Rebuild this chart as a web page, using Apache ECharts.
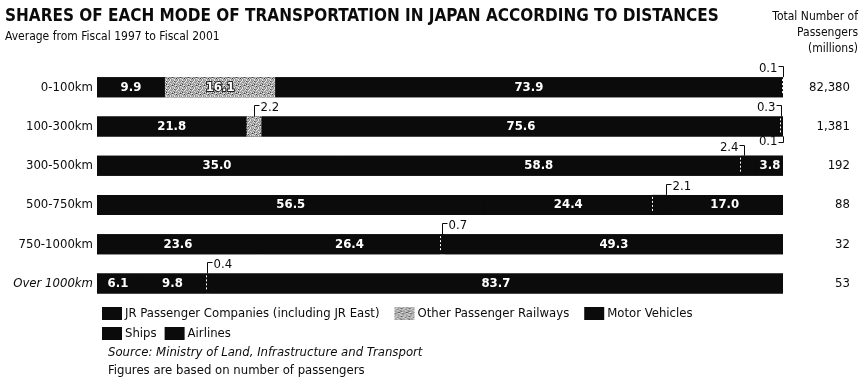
<!DOCTYPE html>
<html>
<head>
<meta charset="utf-8">
<title>Shares of each mode of transportation in Japan according to distances</title>
<script src="https://cdn.jsdelivr.net/npm/echarts@6/dist/echarts.min.js"></script>
<style>
  html, body { margin: 0; padding: 0; background: #fff; }
  #chart { width: 867px; height: 390px; }
</style>
</head>
<body>
<div id="chart"></div>
<script>
// Distance bands (rows, top to bottom)
const categories = ['0-100km', '100-300km', '300-500km', '500-750km', '750-1000km', 'Over 1000km'];

// Share of passengers by mode (%), average of fiscal 1997-2001
const jrPassenger = [9.9, 21.8, 35.0, 56.5, 23.6, 6.1];
const otherRailways = [16.1, 2.2, 0, 0, 0, 0];
const motorVehicles = [73.9, 75.6, 58.8, 24.4, 26.4, 9.8];
const ships = [0.1, 0.3, 2.4, 2.1, 0.7, 0.4];
const airlines = [0, 0.1, 3.8, 17.0, 49.3, 83.7];

// Total number of passengers (millions), shown at the right of each row
const totalPassengers = ['82,380', '1,381', '192', '88', '32', '53'];

const seriesNames = [
  'JR Passenger Companies (including JR East)',
  'Other Passenger Railways',
  'Motor Vehicles',
  'Ships',
  'Airlines'
];
const seriesValues = [jrPassenger, otherRailways, motorVehicles, ships, airlines];

// Small shares are written outside the bar with a bracket leader:
// [row, series index, above(1)/below(-1), label right(1)/left(-1) of leader, anchor within segment]
const callouts = [
  [0, 3, 1, -1, 0.5],
  [1, 1, 1, 1, 0.5],
  [1, 3, 1, -1, 0.5],
  [1, 4, -1, -1, 0.5],
  [2, 3, 1, -1, 0.2],
  [3, 3, 1, 1, 1.0],
  [4, 3, 1, 1, 0.5],
  [5, 3, 1, 1, 0.5]
];

const NARROW = "'Liberation Sans Narrow', 'DejaVu Sans Condensed', 'Arial Narrow', sans-serif";
const INK = '#0b0b0b';
const BAR_H = 20;
const INSIDE_MIN = 3;

// Speckled grey fill used for "Other Passenger Railways"
function speckle() {
  const rows = [
    '21312132',
    '13221301',
    '32112231',
    '21322112',
    '12131302',
    '31210123',
    '02123212',
    '21312231'
  ];
  const shades = { '0': '#3a3a3a', '1': '#8c8c8c', '2': '#b8b8b8', '3': '#e6e6e6' };
  const c = document.createElement('canvas');
  c.width = 8; c.height = 8;
  const g = c.getContext('2d');
  rows.forEach((r, y) => {
    for (let x = 0; x < r.length; x++) {
      g.fillStyle = shades[r[x]];
      g.fillRect(x, y, 1, 1);
    }
  });
  return { image: c, repeat: 'repeat' };
}
const speckleFill = speckle();

// Running start of each segment, so callouts and separators sit on the bar scale
function segmentStart(row, s) {
  let sum = 0;
  for (let k = 0; k < s; k++) sum += seriesValues[k][row];
  return sum;
}

const calloutData = callouts.map(([row, s, v, h, a]) =>
  [segmentStart(row, s), seriesValues[s][row], row, v, h, a]);

// White dashed separator at the start of every ships segment
const separatorData = categories.map((c, row) =>
  [segmentStart(row, 3), ships[row], row]).filter(d => d[1] > 0);

function renderCallout(params, api) {
  const start = api.value(0), val = api.value(1), row = api.value(2);
  const vdir = api.value(3), hdir = api.value(4), anchor = api.value(5);
  const p = api.coord([start + val * anchor, row]);
  const x = Math.round(p[0]) + 0.5;
  const top = p[1] - BAR_H / 2, bot = p[1] + BAR_H / 2;
  const ly = vdir > 0 ? Math.round(top - 11) + 0.5 : Math.round(bot + 6) + 0.5;
  const edge = vdir > 0 ? top : bot;
  const armEnd = x + hdir * 5;
  return {
    type: 'group',
    children: [
      {
        type: 'polyline',
        shape: { points: [[armEnd, ly], [x, ly], [x, edge]] },
        style: { stroke: INK, lineWidth: 1, fill: null }
      },
      {
        type: 'text',
        style: {
          text: val.toFixed(1),
          x: x + hdir * 6,
          y: ly + (vdir > 0 ? 2 : -1),
          align: hdir > 0 ? 'left' : 'right',
          verticalAlign: 'middle',
          fill: INK,
          fontSize: 13,
          fontFamily: NARROW
        }
      }
    ]
  };
}

function renderSeparator(params, api) {
  const p = api.coord([api.value(0), api.value(2)]);
  const x = Math.round(p[0]) + 0.5;
  return {
    type: 'line',
    shape: { x1: x, y1: p[1] - BAR_H / 2 + 2, x2: x, y2: p[1] + BAR_H / 2 - 2 },
    style: { stroke: '#ffffff', lineWidth: 1, lineDash: [2, 2] }
  };
}

const barSeries = seriesNames.map((name, i) => {
  const patterned = i === 1;
  return {
    name: name,
    type: 'bar',
    stack: 'share',
    barWidth: BAR_H,
    data: seriesValues[i],
    // the first series lays a solid black track under each full row so that
    // neighbouring black segments join without hairline seams
    showBackground: i === 0,
    backgroundStyle: { color: INK },
    itemStyle: { color: patterned ? speckleFill : INK },
    label: {
      show: true,
      position: 'inside',
      color: '#ffffff',
      fontSize: 13,
      fontWeight: 'bold',
      fontFamily: NARROW,
      textBorderColor: patterned ? '#222222' : 'transparent',
      textBorderWidth: patterned ? 2 : 0,
      formatter: p => (p.value >= INSIDE_MIN ? p.value.toFixed(1) : '')
    },
    emphasis: { disabled: true },
    silent: true
  };
});

const chart = echarts.init(document.getElementById('chart'), null, { renderer: 'canvas' });

chart.setOption({
  animation: false,
  backgroundColor: '#ffffff',
  textStyle: { fontFamily: NARROW },
  grid: { left: 97, right: 84, top: 67.5, bottom: 87, containLabel: false },
  xAxis: {
    type: 'value', min: 0, max: 100,
    axisLine: { show: false }, axisTick: { show: false },
    axisLabel: { show: false }, splitLine: { show: false }
  },
  yAxis: [
    {
      type: 'category', inverse: true, data: categories,
      axisLine: { show: false }, axisTick: { show: false },
      axisLabel: {
        margin: 4, color: INK, fontSize: 13, fontFamily: NARROW,
        formatter: v => (v === 'Over 1000km' ? '{it|' + v + '}' : v),
        rich: { it: { fontStyle: 'italic', fontSize: 13, fontFamily: NARROW, color: INK } }
      }
    },
    {
      type: 'category', inverse: true, position: 'right', data: totalPassengers,
      axisLine: { show: false }, axisTick: { show: false },
      axisLabel: { margin: 67, align: 'right', color: INK, fontSize: 13, fontFamily: NARROW }
    }
  ],
  legend: [
    {
      left: 97, top: 302, orient: 'horizontal',
      itemWidth: 20, itemHeight: 13, itemGap: 15,
      icon: 'rect', selectedMode: false,
      data: seriesNames.slice(0, 3),
      textStyle: { color: INK, fontSize: 13, fontFamily: NARROW, padding: [0, 0, 0, -2] }
    },
    {
      left: 97, top: 322, orient: 'horizontal',
      itemWidth: 20, itemHeight: 13, itemGap: 8,
      icon: 'rect', selectedMode: false,
      data: seriesNames.slice(3),
      textStyle: { color: INK, fontSize: 13, fontFamily: NARROW, padding: [0, 0, 0, -2] }
    }
  ],
  graphic: [
    {
      type: 'text', left: 5, top: 8,
      style: {
        text: 'SHARES OF EACH MODE OF TRANSPORTATION IN JAPAN ACCORDING TO DISTANCES',
        fill: INK, fontSize: 17, fontWeight: 'bold', fontFamily: NARROW
      }
    },
    {
      type: 'text', left: 5, top: 31,
      style: { text: 'Average from Fiscal 1997 to Fiscal 2001', fill: INK, fontSize: 12, fontFamily: NARROW }
    },
    {
      type: 'text', x: 858, y: 9,
      style: {
        text: 'Total Number of\nPassengers\n(millions)',
        x: 0, y: 0,
        align: 'right', verticalAlign: 'top',
        fill: INK, fontSize: 12, lineHeight: 16, fontFamily: NARROW
      }
    },
    {
      type: 'text', left: 108, top: 346,
      style: {
        text: 'Source: Ministry of Land, Infrastructure and Transport',
        fill: INK, fontSize: 13, fontStyle: 'italic', fontFamily: NARROW
      }
    },
    {
      type: 'text', left: 108, top: 364,
      style: { text: 'Figures are based on number of passengers', fill: INK, fontSize: 13, fontFamily: NARROW }
    }
  ],
  series: barSeries.concat([
    {
      type: 'custom', name: 'separators', silent: true,
      coordinateSystem: 'cartesian2d', xAxisIndex: 0, yAxisIndex: 0,
      encode: { x: 0, y: 2 },
      renderItem: renderSeparator, data: separatorData, z: 3
    },
    {
      type: 'custom', name: 'callouts', silent: true,
      coordinateSystem: 'cartesian2d', xAxisIndex: 0, yAxisIndex: 0,
      encode: { x: 0, y: 2 },
      renderItem: renderCallout, data: calloutData, z: 4
    }
  ])
});
</script>
</body>
</html>
